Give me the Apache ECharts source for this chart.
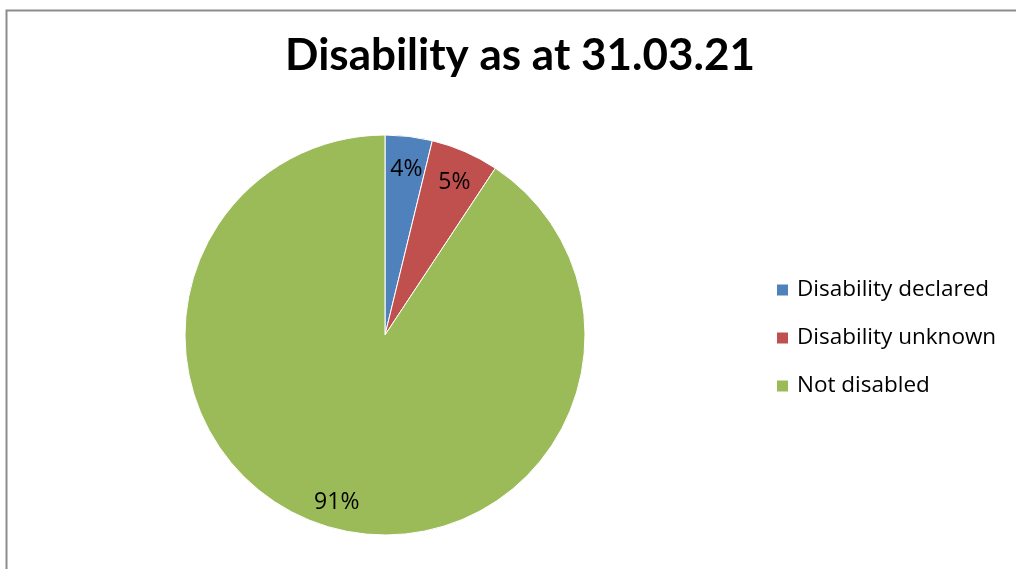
<!DOCTYPE html>
<html><head><meta charset="utf-8">
<script src="https://cdn.jsdelivr.net/npm/echarts@6/dist/echarts.min.js"></script>
<style>html,body{margin:0;padding:0;background:#fff}#c{width:1016px;height:569px}</style>
</head><body><div id="c"></div>
<script>
const titleText = 'Disability as at 31.03.21';
const categories = ['Disability declared', 'Disability unknown', 'Not disabled'];
const values = [3.8, 5.5, 90.7];
const labels = ['4%', '5%', '91%'];
const colors = ['#4F81BD', '#C0504D', '#9BBB59'];

const data = categories.map((c, i) => ({ name: c, value: values[i], itemStyle: { color: colors[i] } }));
const chart = echarts.init(document.getElementById('c'));
chart.setOption({
  animation: false,
  title: { text: titleText, left: 515, textAlign: 'center', top: 29,
    textStyle: { fontFamily: 'Lato', fontWeight: 'bold', fontSize: 44, color: '#000' } },
  graphic: [{ type: 'rect', shape: { x: 6.5, y: 10.5, width: 1100, height: 700 },
    style: { fill: 'none', stroke: '#8c8c8c', lineWidth: 2 }, silent: true, z: -1 }],
  legend: { orient: 'vertical', left: 770, top: 273, itemWidth: 13, itemHeight: 13,
    itemGap: 24, icon: 'rect', data: categories,
    textStyle: { fontFamily: 'Open Sans', fontSize: 22.5, color: '#000', lineHeight: 24, padding: [0, 0, 0, 3] } },
  series: [
    { type: 'pie', center: [385, 335], radius: [0, 200], startAngle: 90, clockwise: true,
      data: data, label: { show: false }, labelLine: { show: false },
      itemStyle: { borderColor: '#fff', borderWidth: 1 }, emphasis: { disabled: true } },
    { type: 'pie', center: [386, 339], radius: [136, 200], startAngle: 90, clockwise: true, silent: true,
      legendHoverLink: false,
      data: categories.map((c, i) => ({ name: c + ' ', value: values[i] })),
      itemStyle: { color: 'rgba(0,0,0,0)' },
      label: { show: true, position: 'inside', formatter: p => labels[p.dataIndex],
        fontFamily: 'Open Sans', fontSize: 23, color: '#000' },
      labelLine: { show: false }, emphasis: { disabled: true } }
  ]
});
</script></body></html>
